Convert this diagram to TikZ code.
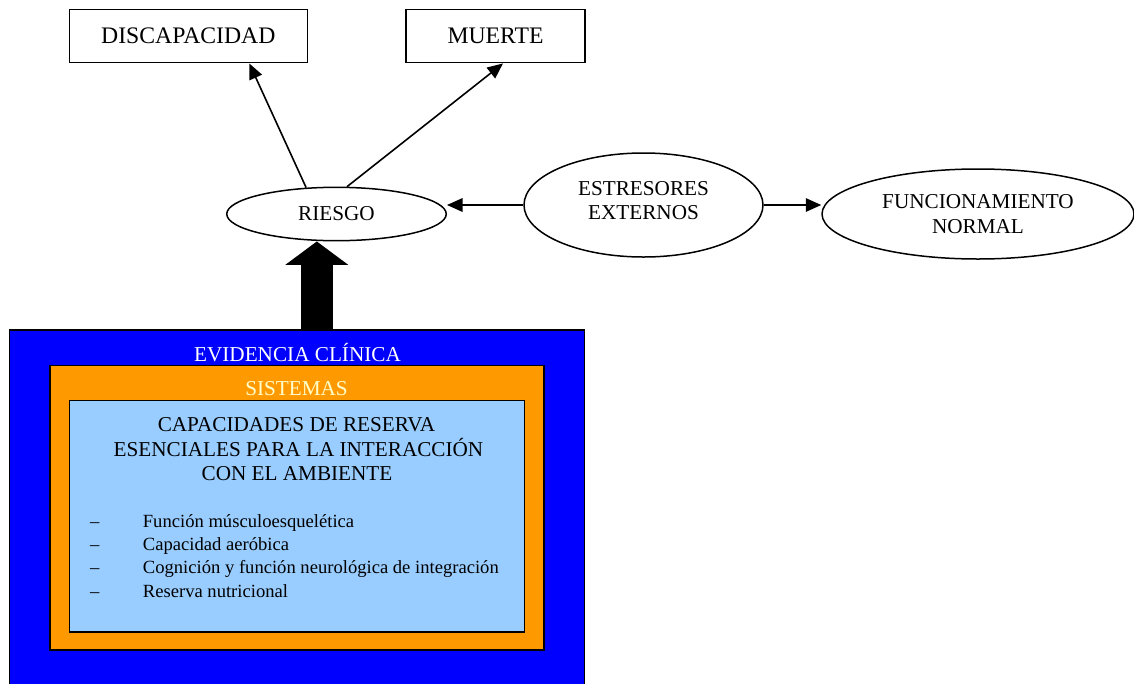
\documentclass[tikz,border=0pt]{standalone}
\usepackage{fontspec}
\setmainfont{Liberation Serif}
\usetikzlibrary{arrows.meta,shapes.geometric,calc}
\definecolor{evblue}{RGB}{0,0,255}
\definecolor{sysorange}{RGB}{255,153,0}
\definecolor{reslight}{RGB}{153,204,255}
\definecolor{syscream}{RGB}{255,255,204}

\begin{document}
\begin{tikzpicture}[x=1pt,y=-1pt,
  outcome/.style={draw, line width=1.5pt, rectangle, inner sep=0pt,
    font=\fontsize{23.7}{28}\selectfont},
  oval/.style={draw, line width=1.5pt, ellipse, inner sep=0pt, align=center,
    font=\fontsize{21.2}{24.3}\selectfont},
  ovaltext/.style={inner sep=0pt, align=center, font=\fontsize{21.2}{24.3}\selectfont},
  link/.style={line width=1.6pt, -{Triangle[length=15.5pt,width=13.5pt]}},
  fatlink/.style={line width=31.4pt, -{Triangle[length=23.3pt,width=61.5pt]}},
  layer/.style={draw, line width=1.5pt, rectangle, inner sep=0pt},
  caption/.style={anchor=base, inner sep=0pt, font=\fontsize{21.2}{24.3}\selectfont},
  item/.style={anchor=base west, inner sep=0pt, font=\fontsize{18.6}{23.3}\selectfont},
]
\useasboundingbox (0,0) rectangle (1134,683);

% nested layers of the model
\node[layer, fill=evblue, minimum width=575pt, minimum height=356pt] (ev) at (297.2,508) {};
\node[layer, fill=sysorange, minimum width=494.4pt, minimum height=284.5pt] (sys) at (297,507.8) {};
\node[layer, fill=reslight, minimum width=455pt, minimum height=231.5pt] (res) at (297,516.3) {};

\node[caption, text=white] (evtitle) at (297.5,361) {EVIDENCIA CLÍNICA};
\node[caption, text=syscream] (systitle) at (296.5,395) {SISTEMAS};

\node[caption] (t1) at (296.5,431.7) {CAPACIDADES DE RESERVA};
\node[caption] (t2) at (298.5,456.7) {ESENCIALES PARA LA INTERACCIÓN};
\node[caption] (t3) at (297,480.3) {CON EL AMBIENTE};

% list of reserve capacities
\node[item] (d1) at (90,527.3) {–};
\node[item] (d2) at (90,550.6) {–};
\node[item] (d3) at (90,573.9) {–};
\node[item] (d4) at (90,597.2) {–};
\node[item] (i1) at (142.7,527.3) {Función músculoesquelética};
\node[item] (i2) at (142.7,550.6) {Capacidad aeróbica};
\node[item] (i3) at (142.7,573.9) {Cognición y función neurológica de integración};
\node[item] (i4) at (142.7,597.2) {Reserva nutricional};

% outcomes
\node[outcome, minimum width=238pt, minimum height=53.4pt] (discap) at (188.3,36) {DISCAPACIDAD};
\node[outcome, minimum width=179pt, minimum height=53.4pt] (muerte) at (495.5,36) {MUERTE};

% risk and stressors
\node[oval, minimum width=219.5pt, minimum height=53.4pt] (riesgo) at (336.5,214) {RIESGO};
\node[oval, minimum width=239pt, minimum height=104pt] (estr) at (643.5,205) {};
\node[ovaltext] (estrtext) at ($(estr.center)+(0,-4.6)$) {ESTRESORES\\EXTERNOS};
\node[oval, minimum width=312pt, minimum height=90pt] (func) at (978,214) {FUNCIONAMIENTO\\NORMAL};

% connectors
\draw[link] (riesgo.139) -- ([xshift=61pt]discap.south);
\draw[link] (riesgo.69) -- ([xshift=7.5pt]muerte.south);
\draw[link] (estr.west) -- (estr.west -| riesgo.east);
\draw[link] (estr.east) -- (estr.east -| func.west);

\coordinate (fatbase) at (316.8,330);
\draw[fatlink] (fatbase) -- (fatbase |- riesgo.south);
\end{tikzpicture}
\end{document}
